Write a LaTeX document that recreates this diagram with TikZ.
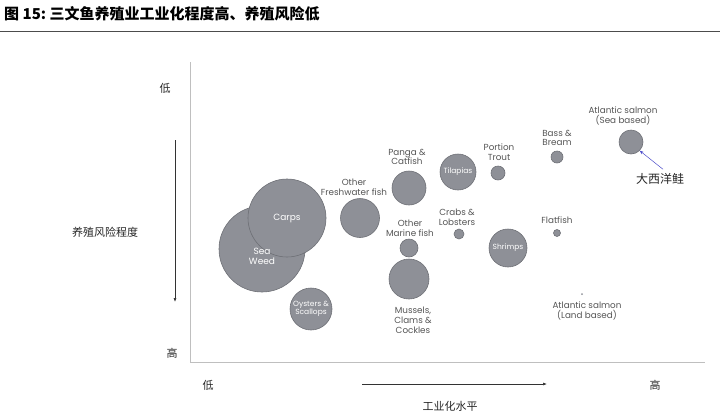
\documentclass[tikz,border=0pt]{standalone}
\usepackage{fontspec}
\setmainfont{Poppins}
\newfontfamily\cjk{Noto Sans CJK SC}
\usetikzlibrary{arrows.meta}
\definecolor{bub}{HTML}{8E9097}
\definecolor{bubedge}{HTML}{6E7076}
\definecolor{lbl}{HTML}{555555}
\begin{document}
\begin{tikzpicture}[x=1pt,y=-1pt,
  bubble/.style={circle,fill=bub,draw=bubedge,line width=0.6pt,inner sep=0pt},
  lab/.style={font=\fontsize{8.8}{9.8}\selectfont,text=lbl,align=center,inner sep=0pt},
  inlab/.style={font=\fontsize{9}{10}\selectfont,text=white,align=center,inner sep=0pt},
  zh/.style={font=\cjk\fontsize{11}{13}\selectfont,text=black!85,inner sep=0pt}]
\useasboundingbox (0,0) rectangle (720,416);
\node[anchor=west,font=\cjk\bfseries\fontsize{15}{17}\selectfont,inner sep=0pt] (title) at (4,14) {图 15:\ 三文鱼养殖业工业化程度高、养殖风险低};
\draw[line width=0.8pt,black!70] (0,31) -- (720,31);
% frame
\draw[black!25,line width=0.6pt] (190,62) -- (190,362) -- (705,362);
% y axis labels
\node[zh] (ylo) at (165,88) {低};
\node[zh] (yhi) at (172,353) {高};
\node[zh] (ytitle) at (105,232) {养殖风险程度};
\coordinate (ya) at (175,140);
\coordinate (yb) at (175,302);
\draw[-{Latex[length=4pt]},black!80,line width=0.6pt] (ya) -- (yb);
% x axis labels
\node[zh] (xlo) at (208,385) {低};
\node[zh] (xhi) at (655,385) {高};
\node[zh] (xtitle) at (450,406) {工业化水平};
\coordinate (xa) at (362,384);
\coordinate (xb) at (547,384);
\draw[-{Latex[length=4pt]},black!80,line width=0.6pt] (xa) -- (xb);
% bubbles
\node[bubble,minimum size=86pt] (sea) at (262,249) {};
\node[bubble,minimum size=78pt] (carps) at (287,218) {};
\node[inlab] at (262,256) {Sea\\Weed};
\node[inlab] at (287,218) {Carps};
\node[bubble,minimum size=39pt] (ofw) at (360,218) {};
\node[bubble,minimum size=34pt] (panga) at (409,188) {};
\node[bubble,minimum size=36pt,font=\fontsize{7.5}{8}\selectfont,text=white] (tilapia) at (458,172) {Tilapias};
\node[bubble,minimum size=18pt] (omf) at (409,248) {};
\node[bubble,minimum size=40pt] (mussels) at (409,279) {};
\node[bubble,minimum size=10pt] (crabs) at (459,234) {};
\node[bubble,minimum size=42pt,font=\fontsize{7.5}{8.5}\selectfont,text=white,align=center] (oysters) at (311,309) {Oysters \&\\Scallops};
\node[bubble,minimum size=14pt] (trout) at (498,173) {};
\node[bubble,minimum size=12pt] (bass) at (557,157) {};
\node[bubble,minimum size=24pt] (ats) at (631,142) {};
\node[bubble,minimum size=38pt,font=\fontsize{7.5}{8}\selectfont,text=white] (shrimps) at (508,248) {Shrimps};
\node[bubble,minimum size=7pt] (flat) at (557,233) {};
\node[circle,fill=bub,minimum size=2pt,inner sep=0pt] (atl) at (582,294) {};
% labels
\node[lab] (lpanga) at (407,157) {Panga \&\\Catfish};
\node[lab] (lofw) at (354,187) {Other\\Freshwater fish};
\node[lab] (lomf) at (410,228) {Other\\Marine fish};
\node[lab] (lmus) at (413,320) {Mussels,\\Clams \&\\Cockles};
\node[lab] (lcrabs) at (457,217) {Crabs \&\\Lobsters};
\node[lab] (ltrout) at (499,152) {Portion\\Trout};
\node[lab] (lbass) at (557,138) {Bass \&\\Bream};
\node[lab] (lats) at (623,116) {Atlantic salmon\\(Sea based)};
\node[lab] (lflat) at (557,220) {Flatfish};
\node[lab] (latl) at (587,311) {Atlantic salmon\\(Land based)};
\node[zh,font=\cjk\fontsize{12}{14}\selectfont] (dxy) at (660,179) {大西洋鲑};
\draw[-{Stealth[length=4pt]},blue!70!black!70,line width=0.5pt] (dxy.north) ++(3,-4) coordinate (dxa) (dxa) -- (ats.south east);
\end{tikzpicture}
\end{document}
